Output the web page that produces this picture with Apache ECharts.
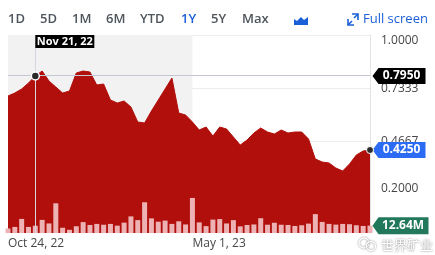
<!DOCTYPE html>
<html><head><meta charset="utf-8">
<script src="https://cdn.jsdelivr.net/npm/echarts@6/dist/echarts.min.js"></script>
<style>html,body{margin:0;padding:0;background:#fff}#c{width:435px;height:255px}</style>
</head><body><div id="c"></div>
<script>
const dates = ['Oct 24, 22','Oct 31, 22','Nov 7, 22','Nov 14, 22','Nov 21, 22','Nov 28, 22','Dec 5, 22','Dec 12, 22','Dec 19, 22','Dec 26, 22',
'Jan 2, 23','Jan 9, 23','Jan 16, 23','Jan 23, 23','Jan 30, 23','Feb 6, 23','Feb 13, 23','Feb 20, 23','Feb 27, 23','Mar 6, 23',
'Mar 13, 23','Mar 20, 23','Mar 27, 23','Apr 3, 23','Apr 10, 23','Apr 17, 23','Apr 24, 23','May 1, 23','May 8, 23','May 15, 23',
'May 22, 23','May 29, 23','Jun 5, 23','Jun 12, 23','Jun 19, 23','Jun 26, 23','Jul 3, 23','Jul 10, 23','Jul 17, 23','Jul 24, 23',
'Jul 31, 23','Aug 7, 23','Aug 14, 23','Aug 21, 23','Aug 28, 23','Sep 4, 23','Sep 11, 23','Sep 18, 23','Sep 25, 23','Oct 2, 23',
'Oct 9, 23','Oct 16, 23','Oct 23, 23','Oct 30, 23'];
const prices = [0.695,0.71,0.73,0.76,0.795,0.82,0.77,0.74,0.71,0.72,
0.81,0.82,0.815,0.75,0.755,0.675,0.66,0.67,0.64,0.565,
0.56,0.62,0.675,0.73,0.785,0.61,0.6,0.565,0.525,0.54,
0.495,0.54,0.53,0.49,0.45,0.475,0.51,0.535,0.515,0.505,
0.525,0.51,0.515,0.515,0.48,0.38,0.365,0.36,0.335,0.32,
0.355,0.40,0.42,0.425];
const volumesM = [7.8,10.4,24.2,10.4,12.5,22.5,16.4,51,9,5.5,
11.6,18.7,13.8,15.6,14.2,15.6,12.6,17.8,28.5,22.1,
52.8,25.1,19.4,21.3,15.6,20.1,14.7,60.2,18.2,11.8,
23,23.9,16.4,22.1,11.4,13.8,14.7,25.4,14.2,17.6,
14.2,13.8,12.1,13.3,16.1,32.4,19,15.6,14.4,15.6,
15.1,13.3,12.1,12.64];
const priceTicks = [0.2, 0.4667, 0.7333, 1.0];
const xLabelIdx = [0, 27];
const shadeRange = [0, 27];
const hoverIdx = 4;
const ranges = ['1D','5D','1M','6M','YTD','1Y','5Y','Max'];
const activeRange = '1Y';
const fullLabel = 'Full screen';
const watermark = '世界矿业';

const RED = '#b10f0c';
const FONT = 'Open Sans';
const last = prices.length - 1;

const rangeX = [8, 40, 72, 106, 140, 181, 211, 242];

const graphics = ranges.map((r, i) => ({
  type: 'text', x: rangeX[i], y: 19,
  style: { text: r, fill: r === activeRange ? '#1b5fd8' : '#4e555c', font: '600 13px "Open Sans"', verticalAlign: 'middle' }
}));
graphics.push(
  { type: 'polygon', shape: { points: [[294,25],[294,19],[297,21],[301,17],[304,20],[308,17],[308,25]] }, style: { fill: '#1b5fd8' } },
  { type: 'polyline', shape: { points: [[348,19],[348,25],[354,25]] }, style: { stroke: '#1b5fd8', lineWidth: 1.6, fill: null } },
  { type: 'line', shape: { x1: 348, y1: 25, x2: 352, y2: 21 }, style: { stroke: '#1b5fd8', lineWidth: 1.6 } },
  { type: 'polyline', shape: { points: [[352,14],[358,14],[358,20]] }, style: { stroke: '#1b5fd8', lineWidth: 1.6, fill: null } },
  { type: 'line', shape: { x1: 358, y1: 14, x2: 354, y2: 18 }, style: { stroke: '#1b5fd8', lineWidth: 1.6 } },
  { type: 'text', x: 363, y: 19, style: { text: fullLabel, fill: '#1b5fd8', font: '13px "Open Sans"', verticalAlign: 'middle' } },
  { type: 'circle', shape: { cx: 364, cy: 243, r: 5 }, style: { stroke: '#fff', lineWidth: 1.3, fill: null, shadowColor: 'rgba(0,0,0,0.5)', shadowBlur: 2 }, z: 100 },
  { type: 'circle', shape: { cx: 371, cy: 246, r: 4.5 }, style: { stroke: '#fff', lineWidth: 1.3, fill: null, shadowColor: 'rgba(0,0,0,0.5)', shadowBlur: 2 }, z: 100 },
  { type: 'text', x: 381, y: 245, z: 100, style: { text: watermark, fill: '#fff', font: '13px "Noto Sans CJK SC"', verticalAlign: 'middle', textShadowColor: 'rgba(0,0,0,0.6)', textShadowBlur: 2 } }
);

const tagPath = 'path://M0,8L6,0L53,0L53,16L6,16Z';

const option = {
  animation: false,
  graphic: graphics,
  grid: { left: 8, right: 65, top: 35, bottom: 22, containLabel: false },
  xAxis: {
    type: 'category', data: dates, boundaryGap: false,
    axisLine: { show: false }, axisTick: { show: false }, splitLine: { show: false },
    axisLabel: {
      interval: (i) => xLabelIdx.includes(i), align: 'left', margin: 5,
      color: '#464646', fontSize: 12, fontFamily: FONT
    }
  },
  yAxis: [{
    type: 'value', position: 'right', min: 0.01, max: 1.0,
    axisLine: { show: true, lineStyle: { color: '#e3e3e3' } },
    axisTick: { show: false, customValues: priceTicks },
    splitLine: { show: true, lineStyle: { color: '#ececec' } },
    axisLabel: {
      customValues: priceTicks, margin: 11, color: '#464646', fontSize: 12, fontFamily: FONT,
      formatter: (v) => {
        const s = v.toFixed(4);
        if (v >= 0.999) return '{t|' + s + '}';
        if (v <= 0.201) return '{b|' + s + '}';
        return s;
      },
      rich: {
        t: { padding: [12, 0, 0, 0], color: '#464646', fontSize: 12, fontFamily: FONT },
        b: { padding: [0, 0, 12, 0], color: '#464646', fontSize: 12, fontFamily: FONT }
      }
    }
  }, {
    type: 'value', min: 0, max: 340, show: false, splitLine: { show: false }
  }],
  series: [{
    type: 'line', data: prices, showSymbol: false, symbol: 'none', z: 2,
    lineStyle: { color: RED, width: 1 },
    areaStyle: { color: RED, opacity: 1, origin: 'start' },
    markArea: {
      silent: true,
      itemStyle: { color: '#f2f2f2' },
      data: [[{ xAxis: dates[shadeRange[0]] }, { xAxis: dates[shadeRange[1]] }]]
    },
    markLine: {
      silent: true, symbol: ['none', 'none'], label: { show: false },
      data: [
        { xAxis: dates[hoverIdx], lineStyle: { color: '#d6d7de', width: 1, type: 'solid' } },
        { yAxis: prices[hoverIdx], lineStyle: { color: '#c4c7d0', width: 1, type: 'solid' } }
      ]
    },
    markPoint: {
      silent: true,
      data: [
        { coord: [hoverIdx, 1.0], symbol: 'rect', symbolSize: [59, 13], symbolOffset: [29.5, 6.5],
          itemStyle: { color: '#000' },
          label: { show: true, position: 'inside', formatter: dates[hoverIdx], color: '#fff', fontSize: 11, fontWeight: 'bold', fontFamily: FONT } },
        { coord: [last, prices[hoverIdx]], symbol: tagPath, symbolSize: [53, 16], symbolOffset: [29, 0],
          itemStyle: { color: '#000' },
          label: { show: true, position: 'inside', offset: [2.5, 0], formatter: prices[hoverIdx].toFixed(4), color: '#fff', fontSize: 12, fontWeight: 'bold', fontFamily: FONT } },
        { coord: [last, prices[last]], symbol: tagPath, symbolSize: [53, 16], symbolOffset: [29, 0],
          itemStyle: { color: '#2c6cf5' },
          label: { show: true, position: 'inside', offset: [2.5, 0], formatter: prices[last].toFixed(4), color: '#fff', fontSize: 12, fontWeight: 'bold', fontFamily: FONT } },
        { coord: [hoverIdx, prices[hoverIdx]], symbol: 'circle', symbolSize: 8,
          itemStyle: { color: '#2a2a2a', borderColor: '#fff', borderWidth: 1.5 }, label: { show: false } },
        { coord: [last, prices[last]], symbol: 'circle', symbolSize: 7,
          itemStyle: { color: '#2a2a2a', borderColor: '#fff', borderWidth: 1 }, label: { show: false } }
      ]
    }
  }, {
    type: 'bar', yAxisIndex: 1, data: volumesM, barWidth: 5, z: 3, clip: true,
    itemStyle: { color: '#edb2b3' },
    markPoint: {
      silent: true,
      data: [
        { coord: [last, volumesM[last]], symbol: 'path://M0,8.5L6,0L56,0L56,17L6,17Z', symbolSize: [56, 17], symbolOffset: [30.5, 0],
          itemStyle: { color: '#22785b' },
          label: { show: true, position: 'inside', offset: [2.5, 0], formatter: volumesM[last].toFixed(2) + 'M', color: '#fff', fontSize: 12, fontWeight: 'bold', fontFamily: FONT } }
      ]
    }
  }]
};
const chart = echarts.init(document.getElementById('c'));
chart.setOption(option);
</script></body></html>
